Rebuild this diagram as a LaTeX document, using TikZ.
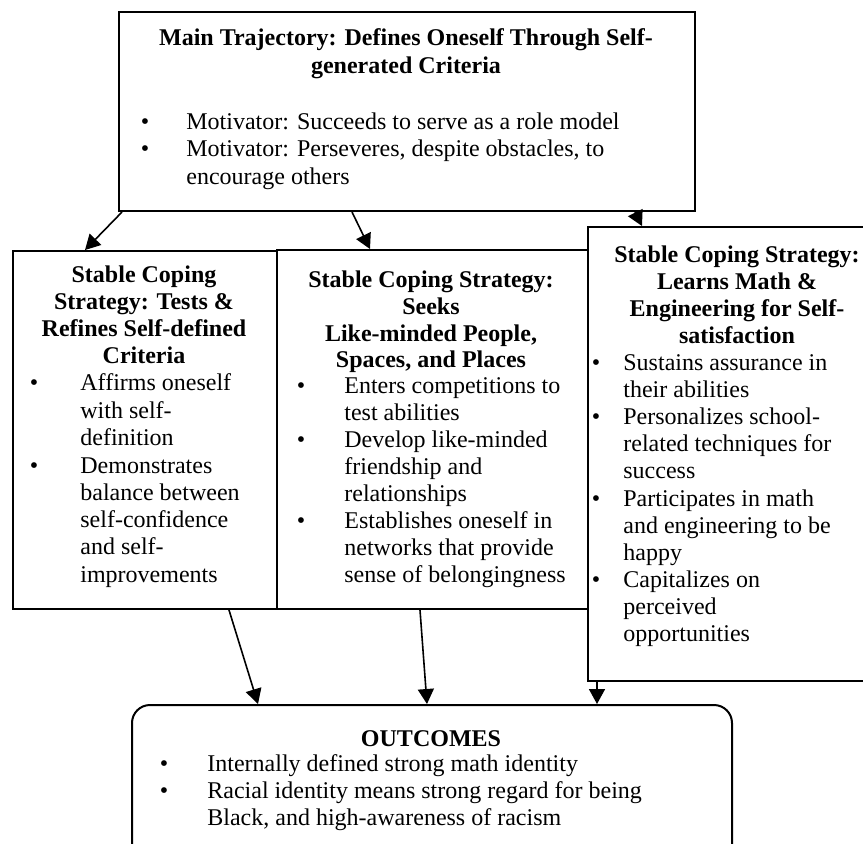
\documentclass[tikz,border=0pt]{standalone}
\usepackage{fontspec}
\setmainfont{Liberation Serif}
\usetikzlibrary{arrows.meta}
\tikzset{
  boxline/.style={draw=black, line width=1pt},
  tl/.style={inner sep=0pt, anchor=base west, font=\fontsize{12}{13.8}\selectfont},
  tc/.style={inner sep=0pt, anchor=base, font=\fontsize{12}{13.8}\selectfont\bfseries},
  bul/.style={inner sep=0pt, anchor=base, font=\fontsize{12}{13.8}\selectfont},
  arr/.style={draw=black, line width=0.8pt, -{Triangle[length=7.5pt,width=8pt]}}
}
\begin{document}
\begin{tikzpicture}[x=0.5pt,y=-0.5pt]
\useasboundingbox (0,0) rectangle (863,843);
\clip (0,0) rectangle (863,843);
% boxes
\node[boxline, inner sep=0pt, minimum width=288pt, minimum height=99.5pt, anchor=north west] (top) at (118,11) {};
\node[boxline, inner sep=0pt, minimum width=132pt, minimum height=179pt, anchor=north west] (left) at (12,250) {};
\node[boxline, inner sep=0pt, minimum width=155.5pt, minimum height=179.5pt, anchor=north west] (mid) at (276,249) {};
\node[boxline, inner sep=0pt, minimum width=150pt, minimum height=227pt, anchor=north west] (right) at (587,226) {};
\node[boxline, rounded corners=9pt, inner sep=0pt, minimum width=300pt, minimum height=90pt, anchor=north west] (out) at (131,704) {};

% top box text
\node[tc] (t1) at (406,45) {Main Trajectory: Defines Oneself Through Self-};
\node[tc] (t2) at (406,73) {generated Criteria};
\node[bul] (tb1) at (145,129) {•};
\node[bul] (tb2) at (145,156) {•};
\node[tl] (tx1) at (186,129) {Motivator: Succeeds to serve as a role model};
\node[tl] (tx2) at (186,156) {Motivator: Perseveres, despite obstacles, to};
\node[tl] (tx3) at (186,184) {encourage others};

% left box text
\node[tc] (l1) at (144,282) {Stable Coping};
\node[tc] (l2) at (144,309) {Strategy: Tests \&};
\node[tc] (l3) at (144,336) {Refines Self-defined};
\node[tc] (l4) at (144,363) {Criteria};
\node[bul] (lb1) at (34,390) {•};
\node[bul] (lb2) at (34,473) {•};
\node[tl] (lx1) at (80,390) {Affirms oneself};
\node[tl] (lx2) at (80,418) {with self-};
\node[tl] (lx3) at (80,445) {definition};
\node[tl] (lx4) at (80,473) {Demonstrates};
\node[tl] (lx5) at (80,500) {balance between};
\node[tl] (lx6) at (80,527) {self-confidence};
\node[tl] (lx7) at (80,554) {and self-};
\node[tl] (lx8) at (80,582) {improvements};

% middle box text
\node[tc] (m1) at (431,287) {Stable Coping Strategy:};
\node[tc] (m2) at (431,314) {Seeks};
\node[tc] (m3) at (431,341) {Like-minded People,};
\node[tc] (m4) at (431,367) {Spaces, and Places};
\node[bul] (mb1) at (301,393) {•};
\node[bul] (mb2) at (301,447) {•};
\node[bul] (mb3) at (301,528) {•};
\node[tl] (mx1) at (344,393) {Enters competitions to};
\node[tl] (mx2) at (344,420) {test abilities};
\node[tl] (mx3) at (344,447) {Develop like-minded};
\node[tl] (mx4) at (344,474) {friendship and};
\node[tl] (mx5) at (344,501) {relationships};
\node[tl] (mx6) at (344,528) {Establishes oneself in};
\node[tl] (mx7) at (344,555) {networks that provide};
\node[tl] (mx8) at (344,582) {sense of belongingness};

% right box text
\node[tc] (r1) at (737,262) {Stable Coping Strategy:};
\node[tc] (r2) at (737,289) {Learns Math \&};
\node[tc] (r3) at (737,316) {Engineering for Self-};
\node[tc] (r4) at (737,343) {satisfaction};
\node[bul] (rb1) at (596,370) {•};
\node[bul] (rb2) at (596,424) {•};
\node[bul] (rb3) at (596,506) {•};
\node[bul] (rb4) at (596,587) {•};
\node[tl] (rx1) at (623,370) {Sustains assurance in};
\node[tl] (rx2) at (623,397) {their abilities};
\node[tl] (rx3) at (623,424) {Personalizes school-};
\node[tl] (rx4) at (623,451) {related techniques for};
\node[tl] (rx5) at (623,478) {success};
\node[tl] (rx6) at (623,506) {Participates in math};
\node[tl] (rx7) at (623,533) {and engineering to be};
\node[tl] (rx8) at (623,560) {happy};
\node[tl] (rx9) at (623,587) {Capitalizes on};
\node[tl] (rx10) at (623,614) {perceived};
\node[tl] (rx11) at (623,641) {opportunities};

% outcomes text
\node[tc] (o1) at (431,746) {OUTCOMES};
\node[bul] (ob1) at (164,771) {•};
\node[bul] (ob2) at (164,798) {•};
\node[tl] (ox1) at (207,771) {Internally defined strong math identity};
\node[tl] (ox2) at (207,798) {Racial identity means strong regard for being};
\node[tl] (ox3) at (207,825) {Black, and high-awareness of racism};

% connectors
\draw[arr] ([xshift=2pt]top.south west) -- ([xshift=36.5pt]left.north west);
\draw[arr] ([xshift=117pt]top.south west) -- ([xshift=47pt]mid.north west);
\draw[arr] ([xshift=258.5pt]top.south west) -- ([xshift=27.5pt]right.north west);
\draw[arr] ([xshift=108.5pt]left.south west) -- ([xshift=63.5pt]out.north west);
\draw[arr] ([xshift=72pt]mid.south west) -- ([xshift=148pt]out.north west);
\draw[arr] ([xshift=5pt]right.south west) -- ([xshift=233pt]out.north west);
\end{tikzpicture}
\end{document}
